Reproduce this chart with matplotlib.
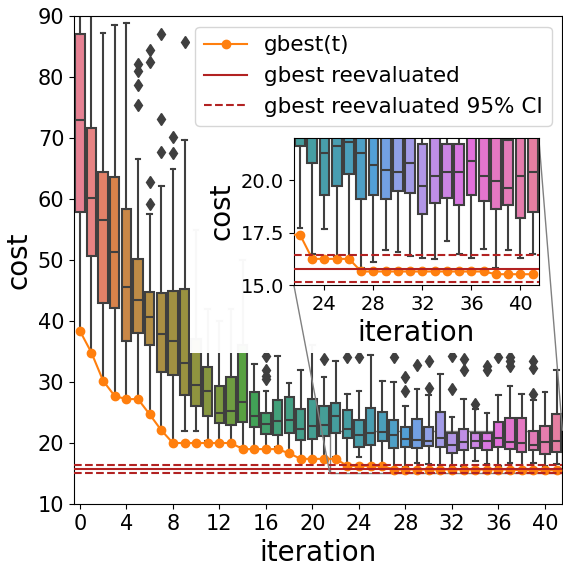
import matplotlib
matplotlib.use("Agg")
import matplotlib.pyplot as plt
from matplotlib.patches import Rectangle
from mpl_toolkits.axes_grid1.inset_locator import mark_inset
import seaborn as sns

# per-iteration box statistics
iterations = list(range(42))
q1 = [57.9, 50.6, 43.0, 42.1, 36.8, 38.1, 36.1, 31.6, 31.1, 27.9,
      26.0, 24.5, 23.3, 23.0, 23.4, 22.7, 21.5, 21.3, 21.7, 20.5,
      20.7, 21.1, 21.6, 20.8, 19.3, 19.7, 20.3, 19.1, 19.3, 19.1,
      19.5, 19.4, 18.4, 18.9, 19.15, 18.8, 19.3, 19.0, 18.6, 18.8,
      18.2, 18.5]
med = [72.9, 60.2, 56.5, 51.3, 45.6, 43.4, 40.6, 37.9, 36.8, 33.1,
       29.5, 28.5, 25.0, 25.3, 26.8, 24.5, 23.1, 23.6, 23.8, 22.3,
       22.8, 23.0, 24.5, 22.3, 21.3, 21.6, 21.8, 21.3, 20.7, 20.5,
       20.4, 20.8, 19.7, 20.2, 20.4, 20.4, 20.9, 20.2, 19.95, 19.6,
       20.2, 20.4]
q3 = [87.0, 71.7, 64.5, 63.6, 58.3, 50.2, 44.7, 44.6, 44.9, 45.3,
      37.0, 32.4, 29.4, 30.9, 36.0, 28.4, 25.0, 27.1, 27.5, 25.6,
      27.2, 26.0, 26.6, 25.4, 23.7, 25.7, 25.1, 23.7, 22.6, 24.0,
      22.7, 25.1, 21.7, 22.3, 21.7, 21.7, 23.4, 24.05, 24.1, 21.9,
      22.8, 24.8]
whislo = [38.4, 34.8, 30.2, 27.7, 27.2, 27.2, 24.7, 22.1, 20.0, 22.0,
          21.9, 20.3, 20.2, 20.2, 19.3, 19.3, 19.3, 19.3, 18.5, 17.6,
          17.6, 17.6, 17.7, 16.5, 17.65, 16.4, 16.3, 15.8, 16.1, 16.65,
          16.6, 16.4, 16.3, 16.25, 17.1, 16.5, 16.3, 16.7, 15.8, 16.65,
          16.3, 16.5]
whishi = [100.0, 100.0, 87.3, 88.6, 88.8, 66.5, 57.5, 62.1, 64.9, 69.6,
          55.0, 42.0, 40.0, 42.0, 50.0, 33.0, 28.5, 34.2, 29.8, 31.9,
          36.0, 30.8, 33.5, 28.0, 28.5, 34.5, 30.1, 30.0, 26.1, 28.8,
          27.8, 31.3, 24.2, 27.2, 25.6, 25.0, 27.9, 29.3, 28.0, 27.1,
          28.3, 32.0]
outliers = [[], [], [], [], [], [82.2, 81.0, 78.7, 75.4], [84.4, 82.4, 62.8, 59.2],
            [87.0, 73.2, 67.7], [70.2, 67.6], [85.8],
            [], [], [], [], [], [], [30.5, 31.0, 32.0, 34.2], [], [], [],
            [], [33.7], [], [34.1], [34.1], [], [], [34.1], [30.8, 28.6], [32.8],
            [29.0, 33.5], [], [28.9, 34.2], [32.0, 33.7], [26.4], [32.7, 32.0], [34.1],
            [34.1, 33.5, 32.7], [], [33.5, 32.3, 28.0], [], []]

gbest = [38.4, 34.8, 30.2, 27.7, 27.2, 27.2, 24.7, 22.1, 20.0, 20.0,
         20.0, 20.0, 20.0, 20.0, 19.0, 19.0, 19.0, 19.0, 18.3, 17.4,
         17.4, 17.4, 17.4, 16.25, 16.25, 16.25, 16.25, 15.65, 15.65, 15.65,
         15.65, 15.65, 15.65, 15.65, 15.65, 15.65, 15.65, 15.65, 15.52, 15.52,
         15.52, 15.52]
gbest_reeval = 15.78
ci_low, ci_high = 15.13, 16.42

colors = sns.color_palette("husl", len(iterations), desat=0.75)
edge = "#3f3f3f"
red = "#b22222"


def draw(ax, size):
    stats = []
    for i in iterations:
        stats.append(dict(q1=q1[i], med=med[i], q3=q3[i], whislo=whislo[i],
                          whishi=whishi[i], fliers=outliers[i]))
    bp = ax.bxp(stats, positions=iterations, widths=0.8, patch_artist=True,
                manage_ticks=False,
                boxprops=dict(edgecolor=edge, linewidth=1.5),
                medianprops=dict(color=edge, linewidth=1.5),
                whiskerprops=dict(color=edge, linewidth=1.5),
                capprops=dict(color=edge, linewidth=1.5),
                flierprops=dict(marker="d", markerfacecolor=edge, markeredgecolor=edge,
                                markersize=size))
    for patch, c in zip(bp["boxes"], colors):
        patch.set_facecolor(c)
    ax.plot(iterations, gbest, color="#ff7f0e", marker="o", label="gbest(t)", zorder=5)
    ax.axhline(gbest_reeval, color=red, lw=1.5, label="gbest reevaluated", zorder=5)
    ax.axhline(ci_low, color=red, lw=1.5, ls="--", label="gbest reevaluated 95% CI", zorder=5)
    ax.axhline(ci_high, color=red, lw=1.5, ls="--", zorder=5)


fig = plt.figure(figsize=(5.63, 5.68), dpi=100)
ax = fig.add_axes([0.1315, 0.1127, 0.8675, 0.859])
draw(ax, 6)
ax.set_xlim(-0.5, 41.5)
ax.set_ylim(10, 90)
ax.set_xticks(range(0, 41, 4))
ax.set_yticks(range(10, 91, 10))
ax.tick_params(labelsize=15)
ax.set_xlabel("iteration", fontsize=20)
ax.set_ylabel("cost", fontsize=20)
ax.legend(loc="upper right", fontsize=15.5)

# translucent white area behind the inset and its labels
ax.add_patch(Rectangle((0.337, 0.378), 0.658, 0.585, transform=fig.transFigure,
                       facecolor="white", edgecolor="none", alpha=0.97,
                       zorder=4.5, clip_on=False))

axins = fig.add_axes([0.522, 0.498, 0.435, 0.259])
draw(axins, 6)
axins.set_xlim(21.5, 41.5)
axins.set_ylim(15, 22)
axins.set_xticks(range(24, 41, 4))
axins.set_yticks([15, 17.5, 20])
axins.set_yticklabels(["15.0", "17.5", "20.0"])
axins.tick_params(labelsize=14)
axins.set_xlabel("iteration", fontsize=20)
axins.set_ylabel("cost", fontsize=20)
mark_inset(ax, axins, loc1=1, loc2=3, fc="none", ec="0.5")

fig.savefig("out.png", dpi=100)
